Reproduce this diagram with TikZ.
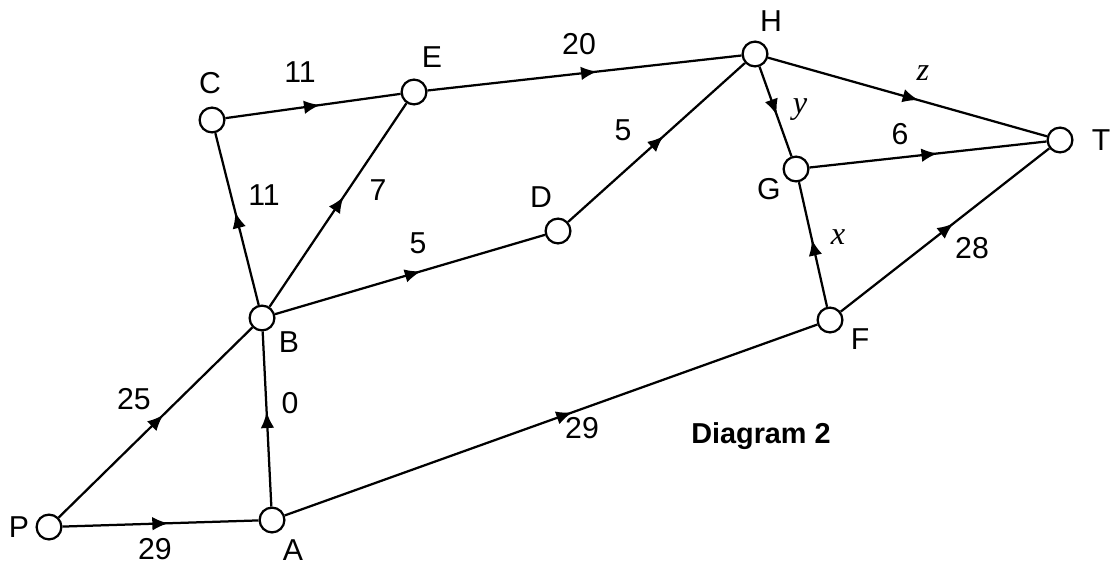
\documentclass[tikz,border=0pt]{standalone}
\usepackage{fontspec}
\setmainfont{Liberation Sans}
\newfontfamily\varfont{Liberation Serif}
\usepackage{tikz}
\usetikzlibrary{arrows.meta, decorations.markings}
\def\lw{1.6pt}
\tikzstyle{vertex} = [circle, draw=black, fill=white, line width=\lw, inner sep=0pt, minimum size=0.62cm]
\tikzstyle{lab} = [inner sep=0pt, font=\fontsize{21.5}{24}\selectfont]
\tikzstyle{var} = [inner sep=0pt, font=\fontsize{23}{24}\selectfont\varfont\itshape]
\tikzstyle{flow} = [line width=\lw, postaction={decorate},
  decoration={markings, mark=at position 0.54 with {\arrow{Latex[length=0.4cm, width=0.34cm]}}}]

\begin{document}
\begin{tikzpicture}[x=0.025cm, y=-0.025cm]
  \useasboundingbox (0,0) rectangle (1113,565);

  % vertices
  \node (P) [vertex] at (49,527) {};
  \node (A) [vertex] at (272,520) {};
  \node (B) [vertex] at (262,318) {};
  \node (C) [vertex] at (212,120) {};
  \node (E) [vertex] at (414,92) {};
  \node (D) [vertex] at (558,231) {};
  \node (H) [vertex] at (755,54) {};
  \node (G) [vertex] at (796,169) {};
  \node (F) [vertex] at (830,320) {};
  \node (T) [vertex] at (1060,140) {};

  % vertex names
  \node (lP) [lab] at (19,527) {P};
  \node (lA) [lab] at (293,550) {A};
  \node (lB) [lab] at (289,342) {B};
  \node (lC) [lab] at (210,83) {C};
  \node (lE) [lab] at (432,57) {E};
  \node (lD) [lab] at (541,197) {D};
  \node (lH) [lab] at (771,21) {H};
  \node (lG) [lab] at (769,189) {G};
  \node (lF) [lab] at (860,339) {F};
  \node (lT) [lab] at (1101,140) {T};

  % arcs
  \draw [flow] (P) -- (A);
  \draw [flow] (P) -- (B);
  \draw [flow] (A) -- (B);
  \draw [flow] (A) -- (F);
  \draw [flow] (B) -- (C);
  \draw [flow] (B) -- (E);
  \draw [flow] (B) -- (D);
  \draw [flow] (C) -- (E);
  \draw [flow] (E) -- (H);
  \draw [flow] (D) -- (H);
  \draw [flow] (H) -- (G);
  \draw [flow] (H) -- (T);
  \draw [flow] (G) -- (T);
  \draw [flow] (F) -- (G);
  \draw [flow] (F) -- (T);

  % capacities
  \node (wPA) [lab] at (155,549) {29};
  \node (wPB) [lab] at (134,399) {25};
  \node (wAB) [lab] at (290,403) {0};
  \node (wAF) [lab] at (582,428) {29};
  \node (wBC) [lab] at (264,195) {11};
  \node (wBE) [lab] at (378,190) {7};
  \node (wBD) [lab] at (418,243) {5};
  \node (wCE) [lab] at (300,72) {11};
  \node (wEH) [lab] at (579,44) {20};
  \node (wDH) [lab] at (623,130) {5};
  \node (wHG) [var] at (800,110) {y};
  \node (wHT) [var] at (923,73) {z};
  \node (wGT) [lab] at (900,134) {6};
  \node (wFG) [var] at (838,237) {x};
  \node (wFT) [lab] at (972,248) {28};

  \node (title) [lab, anchor=base west, font=\fontsize{20.5}{24}\selectfont\bfseries] at (691,443) {Diagram 2};

\end{tikzpicture}
\end{document}
